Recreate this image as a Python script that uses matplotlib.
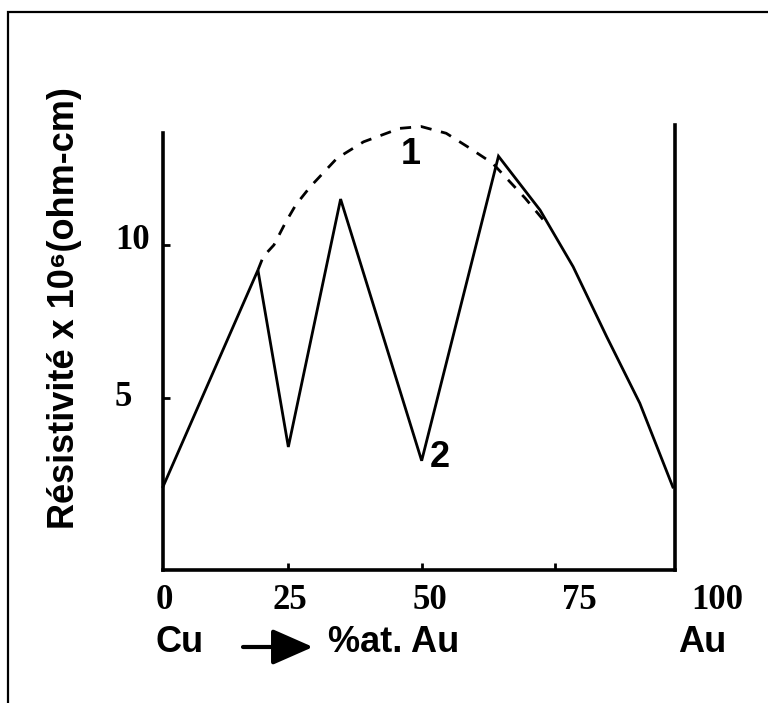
import matplotlib
matplotlib.use("Agg")
import matplotlib.pyplot as plt
from matplotlib.patches import Rectangle
from matplotlib.transforms import blended_transform_factory

# ---- data ----
# curve 2 : measured resistivity (solid)
x_curve2 = [1.5, 19.3, 25.0, 34.8, 50.0, 64.4, 72.2, 78.4, 84.7, 90.9, 97.1]
y_curve2 = [2.1, 9.18, 3.4, 11.5, 2.95, 12.9, 11.14, 9.29, 7.0, 4.83, 2.09]
# curve 1 : disordered alloy (dashed)
x_curve1 = [19.3, 20.3, 22.3, 24.4, 26.4, 29.1, 34.1, 39.1, 45.9, 49.9, 54.6, 58.6, 63.3, 69.4, 72.8]
y_curve1 = [9.18, 9.62, 10.0, 10.71, 11.31, 11.9, 12.83, 13.37, 13.81, 13.87, 13.65, 13.21, 12.67, 11.53, 10.82]

x_ticks = [25, 50, 75]
x_tick_labels = ["0", "25", "50", "75", "100"]
x_tick_label_pos = [1.7, 25.3, 51.5, 79.5, 105.5]
y_ticks = [5, 10]
y_tick_labels = ["5", "10"]

W, H = 768, 703
fig = plt.figure(figsize=(W / 100, H / 100), dpi=100)
fig.patch.set_facecolor("white")

# outer frame (cut by the image border on the right and bottom)
top = 1 - 12 / H
fig.patches.append(Rectangle((8 / W, -0.2), 1.5, top + 0.2, transform=fig.transFigure,
                             fill=False, lw=1.6, edgecolor="black"))

ax = fig.add_axes([163 / W, (H - 570) / H, (675 - 163) / W, (570 - 125) / H])
ax.set_xlim(1.5, 97.5)
ax.set_ylim(-0.62, 13.92)

ax.plot(x_curve2, y_curve2, color="black", lw=2.0, solid_joinstyle="miter", clip_on=False)
ax.plot(x_curve1, y_curve1, color="black", lw=2.0, linestyle=(0, (4, 3.5)), clip_on=False)

for s in ["left", "bottom", "right"]:
    ax.spines[s].set_linewidth(2.6)
    ax.spines[s].set_color("black")
ax.spines["top"].set_visible(False)
ax.spines["left"].set_bounds(-0.62, 13.65)

ax.set_xticks(x_ticks)
ax.set_xticklabels([])
ax.set_yticks(y_ticks)
ax.set_yticklabels([])
ax.tick_params(axis="both", direction="in", length=5, width=2, color="black")

serif = dict(family=["Liberation Serif", "DejaVu Serif"], fontweight="bold", fontsize=25)
sans = dict(family=["Liberation Sans", "DejaVu Sans"], fontweight="bold", fontsize=26)

tx = blended_transform_factory(ax.transData, ax.transAxes)
for lab, xp in zip(x_tick_labels, x_tick_label_pos):
    ax.text(xp, -0.068, lab, transform=tx, ha="center", va="center", clip_on=False, **serif)

ty = blended_transform_factory(ax.transAxes, ax.transData)
for lab, yv, xo in zip(y_tick_labels, y_ticks, [-0.078, -0.059]):
    ax.text(xo, yv + 0.15 if yv == 10 else yv, lab, transform=ty, ha="center", va="center",
            clip_on=False, **serif)

# curve labels
ax.text(48.0, 12.95, "1", ha="center", va="center", **sans)
ax.text(53.4, 3.05, "2", ha="center", va="center", **sans)

# y label
fig.text(65 / W, 1 - 308 / H, "Résistivité x 10⁶(ohm-cm)", rotation=90, ha="center", va="center", **sans)

# x axis caption
fig.text(180 / W, 1 - 642 / H, "Cu", ha="center", va="center", **sans)
fig.text(328 / W, 1 - 643 / H, "%at. Au", ha="left", va="center", **sans)
fig.text(702 / W, 1 - 642 / H, "Au", ha="center", va="center", **sans)
ax.annotate("", xy=(313, H - 647), xytext=(243, H - 647), xycoords="figure pixels",
            textcoords="figure pixels",
            arrowprops=dict(arrowstyle="-|>,head_length=1.25,head_width=0.55", mutation_scale=20,
                            lw=3, color="black", shrinkA=0, shrinkB=0))

fig.savefig("out.png", dpi=100, facecolor="white")
